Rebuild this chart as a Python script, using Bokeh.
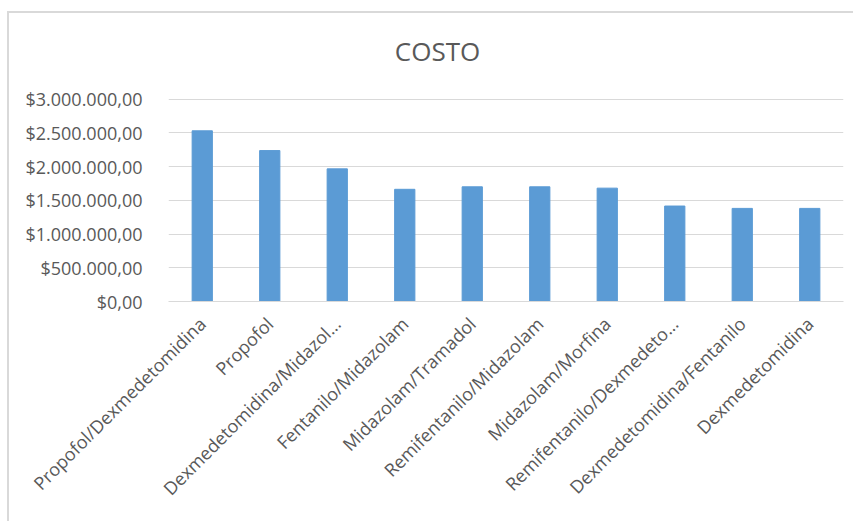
import math
from bokeh.plotting import figure
from bokeh.models import FixedTicker, ColumnDataSource, Range1d, Label
from bokeh.embed import file_html
from bokeh.resources import INLINE

categories = [
    "Propofol/Dexmedetomidina",
    "Propofol",
    "Dexmedetomidina/Midazol...",
    "Fentanilo/Midazolam",
    "Midazolam/Tramadol",
    "Remifentanilo/Midazolam",
    "Midazolam/Morfina",
    "Remifentanilo/Dexmedeto...",
    "Dexmedetomidina/Fentanilo",
    "Dexmedetomidina",
]
costs = [2530000, 2237000, 1966000, 1663000, 1700000, 1700000, 1680000, 1415000, 1380000, 1380000]
y_ticks = [0, 500000, 1000000, 1500000, 2000000, 2500000, 3000000]
y_tick_labels = ["$0,00", "$500.000,00", "$1.000.000,00", "$1.500.000,00",
                 "$2.000.000,00", "$2.500.000,00", "$3.000.000,00"]
title_text = "COSTO"

FONT = "Open Sans"
GRAY = "#595959"
W, H = 853, 521
ML, MT, BW = 7, 11, 2
CANVAS_TOP = MT + 2 * BW       # observed page y of the canvas top
CANVAS_BOTTOM = H + BW
AXIS_TOP_PX, AXIS_BOTTOM_PX = 100, 301   # page y of max tick and of zero
FRAME_LEFT_PX = 168
LEFT = FRAME_LEFT_PX - ML - BW
RIGHT = 12
BOTTOM = CANVAS_BOTTOM - AXIS_BOTTOM_PX
frame_h = AXIS_BOTTOM_PX - CANVAS_TOP
y_end = y_ticks[-1] * frame_h / (AXIS_BOTTOM_PX - AXIS_TOP_PX)

p = figure(width=W - ML, height=H - MT, x_range=categories, y_range=Range1d(0, y_end),
           output_backend="svg", toolbar_location=None,
           min_border_left=LEFT, min_border_right=RIGHT, min_border_top=0, min_border_bottom=BOTTOM)
p.margin = (MT, 0, 0, ML)
p.styles = {"border-top": f"{BW}px solid #D9D9D9", "border-left": f"{BW}px solid #D9D9D9",
            "box-sizing": "border-box"}

src = ColumnDataSource(dict(cat=categories, cost=costs))
p.vbar(x="cat", top="cost", width=0.3, source=src, fill_color="#5B9BD5", line_color="#5B9BD5")

p.outline_line_color = None
p.background_fill_color = "white"
p.border_fill_color = "white"

p.xgrid.grid_line_color = None
p.ygrid.grid_line_color = "#D9D9D9"
p.ygrid.grid_line_width = 1

p.yaxis.ticker = FixedTicker(ticks=y_ticks)
p.yaxis.major_label_overrides = {t: l for t, l in zip(y_ticks, y_tick_labels)}
p.yaxis.axis_line_color = None
p.yaxis.major_tick_line_color = None
p.yaxis.minor_tick_line_color = None
p.yaxis.major_label_text_font = FONT
p.yaxis.major_label_text_font_size = "18px"
p.yaxis.major_label_text_color = GRAY
p.yaxis.major_label_standoff = 20

p.xaxis.axis_line_color = "#D9D9D9"
p.xaxis.major_tick_line_color = None
p.xaxis.minor_tick_line_color = None
p.xaxis.major_label_orientation = math.pi / 4
p.xaxis.major_label_text_font = FONT
p.xaxis.major_label_text_font_size = "18px"
p.xaxis.major_label_text_color = GRAY
p.xaxis.major_label_standoff = 13

title = Label(x=437 - FRAME_LEFT_PX, y=AXIS_BOTTOM_PX - 50, x_units="screen", y_units="screen",
              text=title_text, text_font=FONT, text_font_size="26px", text_color=GRAY,
              text_align="center", text_baseline="middle")
p.add_layout(title)

open("out.html", "w").write(file_html(p, INLINE))
